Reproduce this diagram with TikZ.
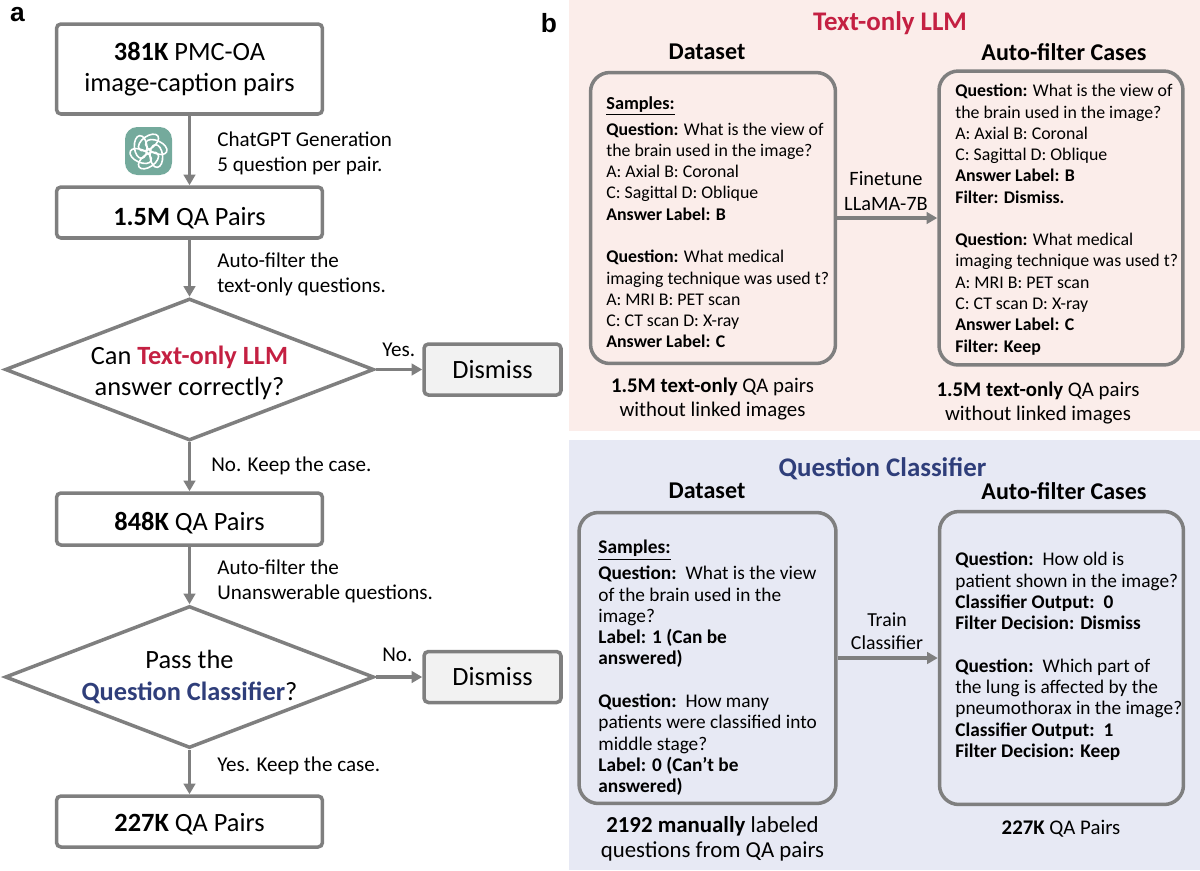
\documentclass[tikz,border=0pt]{standalone}
\usepackage{fontspec}
\setmainfont{Carlito}
\newfontfamily\letterfont{Liberation Sans}
\usetikzlibrary{arrows.meta,shapes.geometric}
\definecolor{linegray}{RGB}{127, 127, 127}
\definecolor{pinkbg}{RGB}{251, 237, 234}
\definecolor{bluebg}{RGB}{231, 233, 244}
\definecolor{llmred}{RGB}{196, 32, 66}
\definecolor{clsblue}{RGB}{47, 62, 122}
\definecolor{gptgreen}{RGB}{116, 170, 156}
\definecolor{dismissbg}{RGB}{242, 242, 242}
\newcommand{\bigfont}{\fontsize{15}{18}\selectfont}
\newcommand{\midfont}{\fontsize{12}{14.2}\selectfont}
\newcommand{\capfont}{\fontsize{11.85}{14}\selectfont}
\newcommand{\headfont}{\fontsize{13.7}{15}\selectfont}
\newcommand{\smallfont}{\fontsize{10.15}{12.1}\selectfont}
\newcommand{\bluefont}{\fontsize{11}{12.1}\selectfont}
\tikzset{
  flowbox/.style={draw=linegray, line width=2pt, rounded corners=2.5pt, align=center, font=\bigfont, inner sep=0pt, minimum width=5.32cm},
  flowdiamond/.style={draw=linegray, line width=2pt, diamond, align=center, font=\bigfont, inner sep=-14pt, aspect=2.6, minimum width=7.38cm, minimum height=2.84cm},
  dismissbox/.style={flowbox, fill=dismissbg, minimum width=2.74cm, minimum height=1.02cm},
  flowlabel/.style={anchor=west, align=left, font=\midfont, inner sep=0pt},
  flowarrow/.style={draw=linegray, line width=1.8pt, -{Triangle[length=6pt, width=6.5pt]}},
  samplebox/.style={draw=linegray, line width=2pt, rounded corners=11pt, inner sep=0pt},
  sampletext/.style={anchor=north west, align=left, font=\smallfont, inner sep=0pt},
  paneltitle/.style={font=\fontsize{15.3}{17}\selectfont\bfseries, inner sep=0pt},
  colhead/.style={font=\headfont\bfseries, inner sep=0pt},
  caption/.style={align=center, font=\capfont, inner sep=0pt},
  letter/.style={font=\fontsize{15}{16}\letterfont\bfseries, inner sep=0pt}
}
\begin{document}
\begin{tikzpicture}[x=0.02cm, y=-0.02cm]
  \useasboundingbox (0, 0) rectangle (1200, 870);
  \fill[pinkbg] (569, 0) rectangle (1200, 431);
  \fill[bluebg] (569, 440) rectangle (1200, 870);
  \node[letter] (la) at (17.5, 14.5) {a};
  \node[letter] (lb) at (549, 23) {b};

  % left flow chart
  \node[flowbox, minimum height=1.8cm] (pmc) at (189.5, 69) {\textbf{381K} PMC-OA\\image-caption pairs};
  \node[flowbox, minimum height=1.02cm] (qa1) at (189.5, 212.5) {\rule{0pt}{16.7pt}\textbf{1.5M} QA Pairs};
  \node[flowdiamond] (llm) at (189.5, 369.5) {\rule{0pt}{14.5pt}Can \textcolor{llmred}{\textbf{Text-only LLM}}\\answer correctly?};
  \node[dismissbox] (dis1) at (492.5, 369.5) {Dismiss};
  \node[flowbox, minimum height=1.04cm] (qa2) at (189.5, 519) {\rule{0pt}{15pt}\textbf{848K} QA Pairs};
  \node[flowdiamond] (cls) at (189.5, 677) {Pass the\\\textcolor{clsblue}{\textbf{Question Classifier}}?};
  \node[dismissbox] (dis2) at (492.5, 677) {Dismiss};
  \node[flowbox, minimum height=1.02cm] (qa3) at (189.5, 821.5) {\rule{0pt}{13.3pt}\textbf{227K} QA Pairs};
  \draw[flowarrow] (pmc) -- (qa1);
  \draw[flowarrow] (qa1) -- (llm);
  \draw[flowarrow] (llm) -- (qa2);
  \draw[flowarrow] (qa2) -- (cls);
  \draw[flowarrow] (cls) -- (qa3);
  \draw[flowarrow] (llm) -- (dis1);
  \draw[flowarrow] (cls) -- (dis2);
  \node[flowlabel] (gen) at (217, 153) {ChatGPT Generation\\5 question per pair.};
  \node[flowlabel] (flt1) at (217, 274) {Auto-filter the\\text-only questions.};
  \node[flowlabel] (yes1) at (382, 350) {Yes.};
  \node[flowlabel] (no1) at (211, 466) {No. Keep the case.};
  \node[flowlabel] (flt2) at (217, 581) {Auto-filter the\\Unanswerable questions.};
  \node[flowlabel] (no2) at (382, 655) {No.};
  \node[flowlabel] (yes2) at (217, 766) {Yes. Keep the case.};

  % chatgpt icon
  \fill[gptgreen, rounded corners=7pt] (125, 127) rectangle (172, 175);
  \foreach \ang in {0, 60, ..., 300} {
    \draw[white, line width=0.9pt, rotate around={\ang:(148.5, 151.5)}] (148.5, 142.5) ellipse [x radius=6.5pt, y radius=3.6pt, rotate=35];
  }

  % text-only panel
  \node[paneltitle, text=llmred] (ttl1) at (890, 23) {Text-only LLM};
  \node[colhead] (ds1) at (707, 52) {Dataset};
  \node[colhead] (af1) at (1064, 52) {Auto-filter Cases};
  \node[samplebox, minimum width=4.9cm, minimum height=5.82cm] (dsbox1) at (713, 218) {};
  \node[samplebox, minimum width=4.88cm, minimum height=5.88cm] (afbox1) at (1061, 218) {};
  \node[sampletext] (dstext1) at (606, 96) {\fontsize{10.4}{12.1}\selectfont\underline{\textbf{Samples:}}\\[2.7pt]
    \textbf{Question:} What is the view of\\
    the brain used in the image?\\
    A: Axial B: Coronal\\
    C: Sagittal D: Oblique\\
    \textbf{Answer Label: B}\\[12.1pt]
    \textbf{Question:} What medical\\
    imaging technique was used t?\\
    A: MRI B: PET scan\\
    C: CT scan D: X-ray\\
    \textbf{Answer Label: C}};
  \node[sampletext] (aftext1) at (955, 84) {\textbf{Question:} What is the view of\\
    the brain used in the image?\\
    A: Axial B: Coronal\\
    C: Sagittal D: Oblique\\
    \textbf{Answer Label: B}\\
    \textbf{Filter: Dismiss.}\\[12.1pt]
    \textbf{Question:} What medical\\
    imaging technique was used t?\\
    A: MRI B: PET scan\\
    C: CT scan D: X-ray\\
    \textbf{Answer Label: C}\\
    \textbf{Filter: Keep}};
  \draw[flowarrow] (dsbox1) -- (afbox1);
  \node[caption, font=\fontsize{11.6}{14.2}\selectfont] (tune) at (886, 191) {Finetune\\LLaMA-7B};
  \node[caption] (cap1) at (712.5, 399) {\textbf{1.5M text-only} QA pairs\\without linked images};
  \node[caption] (cap2) at (1038, 403) {\textbf{1.5M text-only} QA pairs\\without linked images};

  % classifier panel
  \node[paneltitle, text=clsblue] (ttl2) at (882.5, 469) {Question Classifier};
  \node[colhead] (ds2) at (707, 491) {Dataset};
  \node[colhead] (af2) at (1064, 491) {Auto-filter Cases};
  \node[samplebox, minimum width=5.14cm, minimum height=5.82cm] (dsbox2) at (707.5, 658) {};
  \node[samplebox, minimum width=4.88cm, minimum height=5.86cm] (afbox2) at (1061.5, 658) {};
  \node[sampletext, font=\bluefont] (dstext2) at (598, 540) {\underline{\textbf{Samples:}}\\[2.7pt]
    \textbf{Question:}\, What is the view\\
    of the brain used in the\\
    image?\\
    \textbf{Label: 1 (Can be}\\
    \textbf{answered)}\\[12.1pt]
    \textbf{Question:}\, How many\\
    patients were classified into\\
    middle stage?\\
    \textbf{Label: 0 (Can't be}\\
    \textbf{answered)}};
  \node[sampletext, font=\bluefont] (aftext2) at (955, 552) {\textbf{Question:}\, How old is\\
    patient shown in the image?\\
    \textbf{Classifier Output:\, 0}\\
    \textbf{Filter Decision: Dismiss}\\[12.1pt]
    \textbf{Question:}\, Which part of\\
    the lung is affected by the\\
    pneumothorax in the image?\\
    \textbf{Classifier Output:\, 1}\\
    \textbf{Filter Decision: Keep}};
  \draw[flowarrow] (dsbox2) -- (afbox2);
  \node[caption, font=\fontsize{11.3}{13.2}\selectfont] (train) at (887, 631) {Train\\Classifier};
  \node[caption, font=\fontsize{13}{14}\selectfont] (cap3) at (712.5, 839) {\textbf{2192 manually} labeled\\questions from QA pairs};
  \node[caption] (cap4) at (1061, 829) {\textbf{227K} QA Pairs};
\end{tikzpicture}
\end{document}
